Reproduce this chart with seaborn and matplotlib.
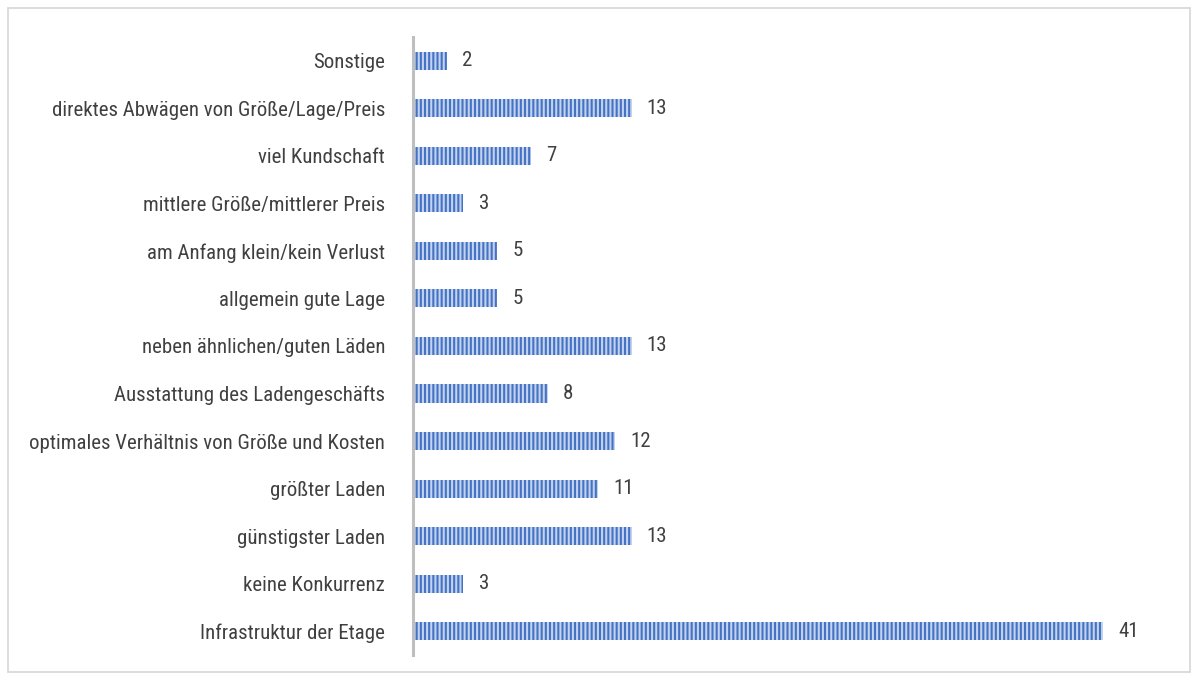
import matplotlib
matplotlib.use("Agg")
import matplotlib.pyplot as plt
import seaborn as sns
import pandas as pd
from matplotlib.patches import Rectangle

categories = [
    "Sonstige",
    "direktes Abwägen von Größe/Lage/Preis",
    "viel Kundschaft",
    "mittlere Größe/mittlerer Preis",
    "am Anfang klein/kein Verlust",
    "allgemein gute Lage",
    "neben ähnlichen/guten Läden",
    "Ausstattung des Ladengeschäfts",
    "optimales Verhältnis von Größe und Kosten",
    "größter Laden",
    "günstigster Laden",
    "keine Konkurrenz",
    "Infrastruktur der Etage",
]
counts = [2, 13, 7, 3, 5, 5, 13, 8, 12, 11, 13, 3, 41]

df = pd.DataFrame({"Kategorie": categories, "Anzahl": counts})

sns.set_style("white")
plt.rcParams["font.family"] = ["Roboto Condensed", "Roboto", "DejaVu Sans"]
plt.rcParams["hatch.linewidth"] = 1.5

fig = plt.figure(figsize=(11.96, 6.8), dpi=100)
ax = fig.add_axes([0.3453, 0.0368, 0.612, 0.9088])

sns.barplot(data=df, x="Anzahl", y="Kategorie", orient="h", color="#4472C4",
            width=0.38, ax=ax)

for p in ax.patches:
    p.set_facecolor("#4472C4")
    p.set_edgecolor("#C3D3EE")
    p.set_linewidth(0)
    p.set_hatch("||||")

for i, v in enumerate(counts):
    ax.text(v + 0.9, i, str(v), va="center", ha="left", fontsize=15, color="#404040")

ax.set_xlim(0, 43.5)
ax.set_ylim(12.5, -0.5)
ax.set_xlabel("")
ax.set_ylabel("")
ax.set_xticks([])
ax.tick_params(axis="y", length=0, pad=20, labelsize=15, labelcolor="#404040")
for s in ["top", "right", "bottom"]:
    ax.spines[s].set_visible(False)
ax.spines["left"].set_color("#BFBFBF")
ax.spines["left"].set_linewidth(2.2)

fig.patches.append(Rectangle((8 / 1196, 8 / 680), 1182 / 1196, 664 / 680,
                             transform=fig.transFigure, fill=False,
                             edgecolor="#D9D9D9", linewidth=1.3))

fig.savefig("out.png", dpi=100)
